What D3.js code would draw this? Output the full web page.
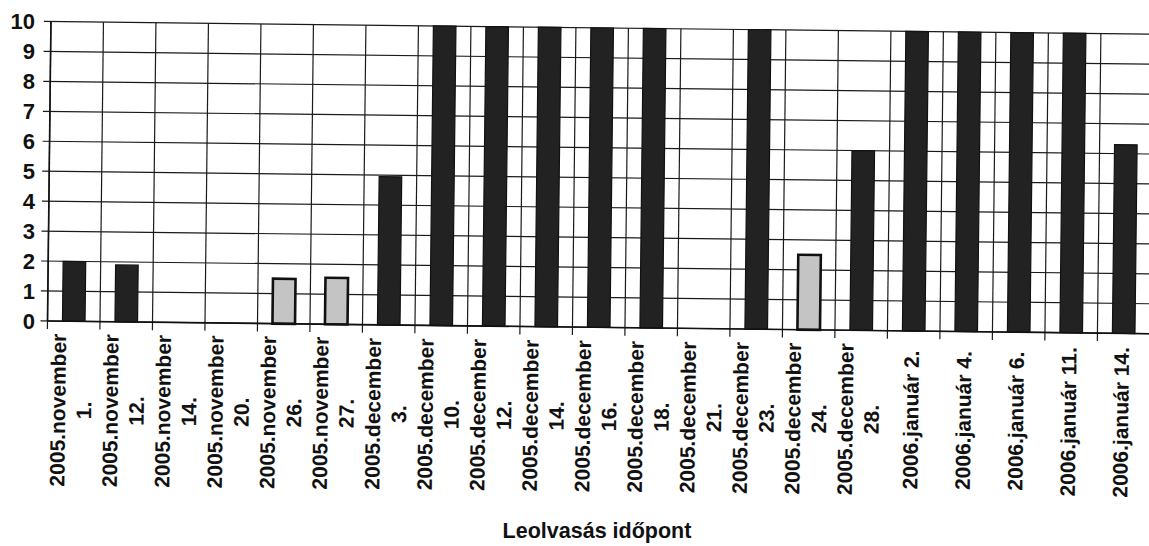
<!DOCTYPE html>
<html>
<head>
<meta charset="utf-8">
<script src="https://cdn.jsdelivr.net/npm/d3@7"></script>
<style>
  body { margin: 0; background: #fff; }
  svg { display: block; font-family: "Liberation Sans", Arial, sans-serif; font-weight: bold; }
</style>
</head>
<body>
<div id="chart"></div>
<script>
// readings, one per date
const dateLines = [
    ["2005.november", "1."],
    ["2005.november", "12."],
    ["2005.november", "14."],
    ["2005.november", "20."],
    ["2005.november", "26."],
    ["2005.november", "27."],
    ["2005.december", "3."],
    ["2005.december", "10."],
    ["2005.december", "12."],
    ["2005.december", "14."],
    ["2005.december", "16."],
    ["2005.december", "18."],
    ["2005.december", "21."],
    ["2005.december", "23."],
    ["2005.december", "24."],
    ["2005.december", "28."],
    ["2006.január 2."],
    ["2006.január 4."],
    ["2006.január 6."],
    ["2006.január 11."],
    ["2006.január 14."]
];
const values = [2.0, 1.9, 0, 0, 1.5, 1.55, 4.95, 10, 10, 10, 10, 10, 0, 10, 2.5, 6.0, 10, 10, 10, 10, 6.3];
// "dark" or "light" bar
const kinds = ["dark", "dark", "dark", "dark", "light", "light", "dark", "dark", "dark", "dark", "dark",
    "dark", "dark", "dark", "light", "dark", "dark", "dark", "dark", "dark", "dark"];
const yTicks = [0, 1, 2, 3, 4, 5, 6, 7, 8, 9, 10];
const xTitle = "Leolvasás időpont";

const width = 1149, height = 546;
const plotLeft = 47.5, plotBottom = 321, plotTop = 21.5, plotRight = 1150;
const tilt = 0.66; // the scanned original is slightly rotated

const data = dateLines.map((lines, i) => ({ id: i, lines: lines, value: values[i], kind: kinds[i] }));

const svg = d3.select("#chart")
    .append("svg")
    .attr("width", width)
    .attr("height", height);

const xScale = d3.scaleBand()
    .domain(data.map(d => d.id))
    .range([plotLeft, plotRight])
    .paddingInner(0.57)
    .paddingOuter(0.285);

const yScale = d3.scaleLinear()
    .domain([0, 10])
    .range([plotBottom, plotTop]);

const step = xScale.step();

//plot area, tilted like the scan
const plot = svg.append("g")
    .attr("transform", `rotate(${tilt}, ${plotLeft}, ${plotBottom})`);

//horizontal grid
plot.selectAll(".hgrid")
    .data(yTicks)
    .join("line")
        .attr("class", "hgrid")
        .attr("x1", plotLeft - 7)
        .attr("x2", plotRight)
        .attr("y1", d => yScale(d))
        .attr("y2", d => yScale(d))
        .attr("stroke", "#1a1a1a")
        .attr("stroke-width", 1.2);

//vertical grid at category boundaries
const bounds = d3.range(data.length + 1).map(k => plotLeft + k * step);
plot.selectAll(".vgrid")
    .data(bounds)
    .join("line")
        .attr("class", "vgrid")
        .attr("x1", d => d)
        .attr("x2", d => d)
        .attr("y1", plotTop)
        .attr("y2", plotBottom + 8)
        .attr("stroke", "#1a1a1a")
        .attr("stroke-width", 1.2);

//bars
plot.selectAll(".bar")
    .data(data.filter(d => d.value > 0))
    .join("rect")
        .attr("class", "bar")
        .attr("x", d => xScale(d.id))
        .attr("y", d => yScale(d.value))
        .attr("width", xScale.bandwidth())
        .attr("height", d => yScale(0) - yScale(d.value))
        .attr("fill", d => d.kind === "light" ? "#c4c4c4" : "#222")
        .attr("stroke", "#111")
        .attr("stroke-width", d => d.kind === "light" ? 2.6 : 1.2);

//axis lines
plot.append("line")
    .attr("x1", plotLeft).attr("x2", plotRight)
    .attr("y1", plotBottom).attr("y2", plotBottom)
    .attr("stroke", "#111").attr("stroke-width", 1.6);
plot.append("line")
    .attr("x1", plotLeft).attr("x2", plotLeft)
    .attr("y1", plotTop).attr("y2", plotBottom)
    .attr("stroke", "#111").attr("stroke-width", 1.6);

//y labels
svg.selectAll(".ylab")
    .data(yTicks)
    .join("text")
        .attr("class", "ylab")
        .attr("x", 35)
        .attr("y", d => yScale(d))
        .attr("dy", "0.36em")
        .attr("text-anchor", "end")
        .attr("font-size", 22)
        .attr("fill", "#111")
        .text(d => d);

//x labels, rotated, one or two lines (tilted with the plot)
const xLabels = plot.selectAll(".xlab")
    .data(data)
    .join("text")
        .attr("class", "xlab")
        .attr("transform", d => `translate(${xScale(d.id) + xScale.bandwidth() / 2 - 2}, 410) rotate(-90)`)
        .attr("text-anchor", "middle")
        .attr("font-size", 21)
        .attr("fill", "#111");

xLabels.selectAll("tspan")
    .data(d => d.lines.map((t, i) => ({ t: t, off: d.lines.length === 1 ? 0 : (i === 0 ? -13 : 13) })))
    .join("tspan")
        .attr("x", 0)
        .attr("y", d => d.off + 7.5)
        .text(d => d.t);

//axis title
svg.append("text")
    .attr("x", 597)
    .attr("y", 538)
    .attr("text-anchor", "middle")
    .attr("font-size", 21.5)
    .attr("fill", "#111")
    .text(xTitle);
</script>
</body>
</html>
